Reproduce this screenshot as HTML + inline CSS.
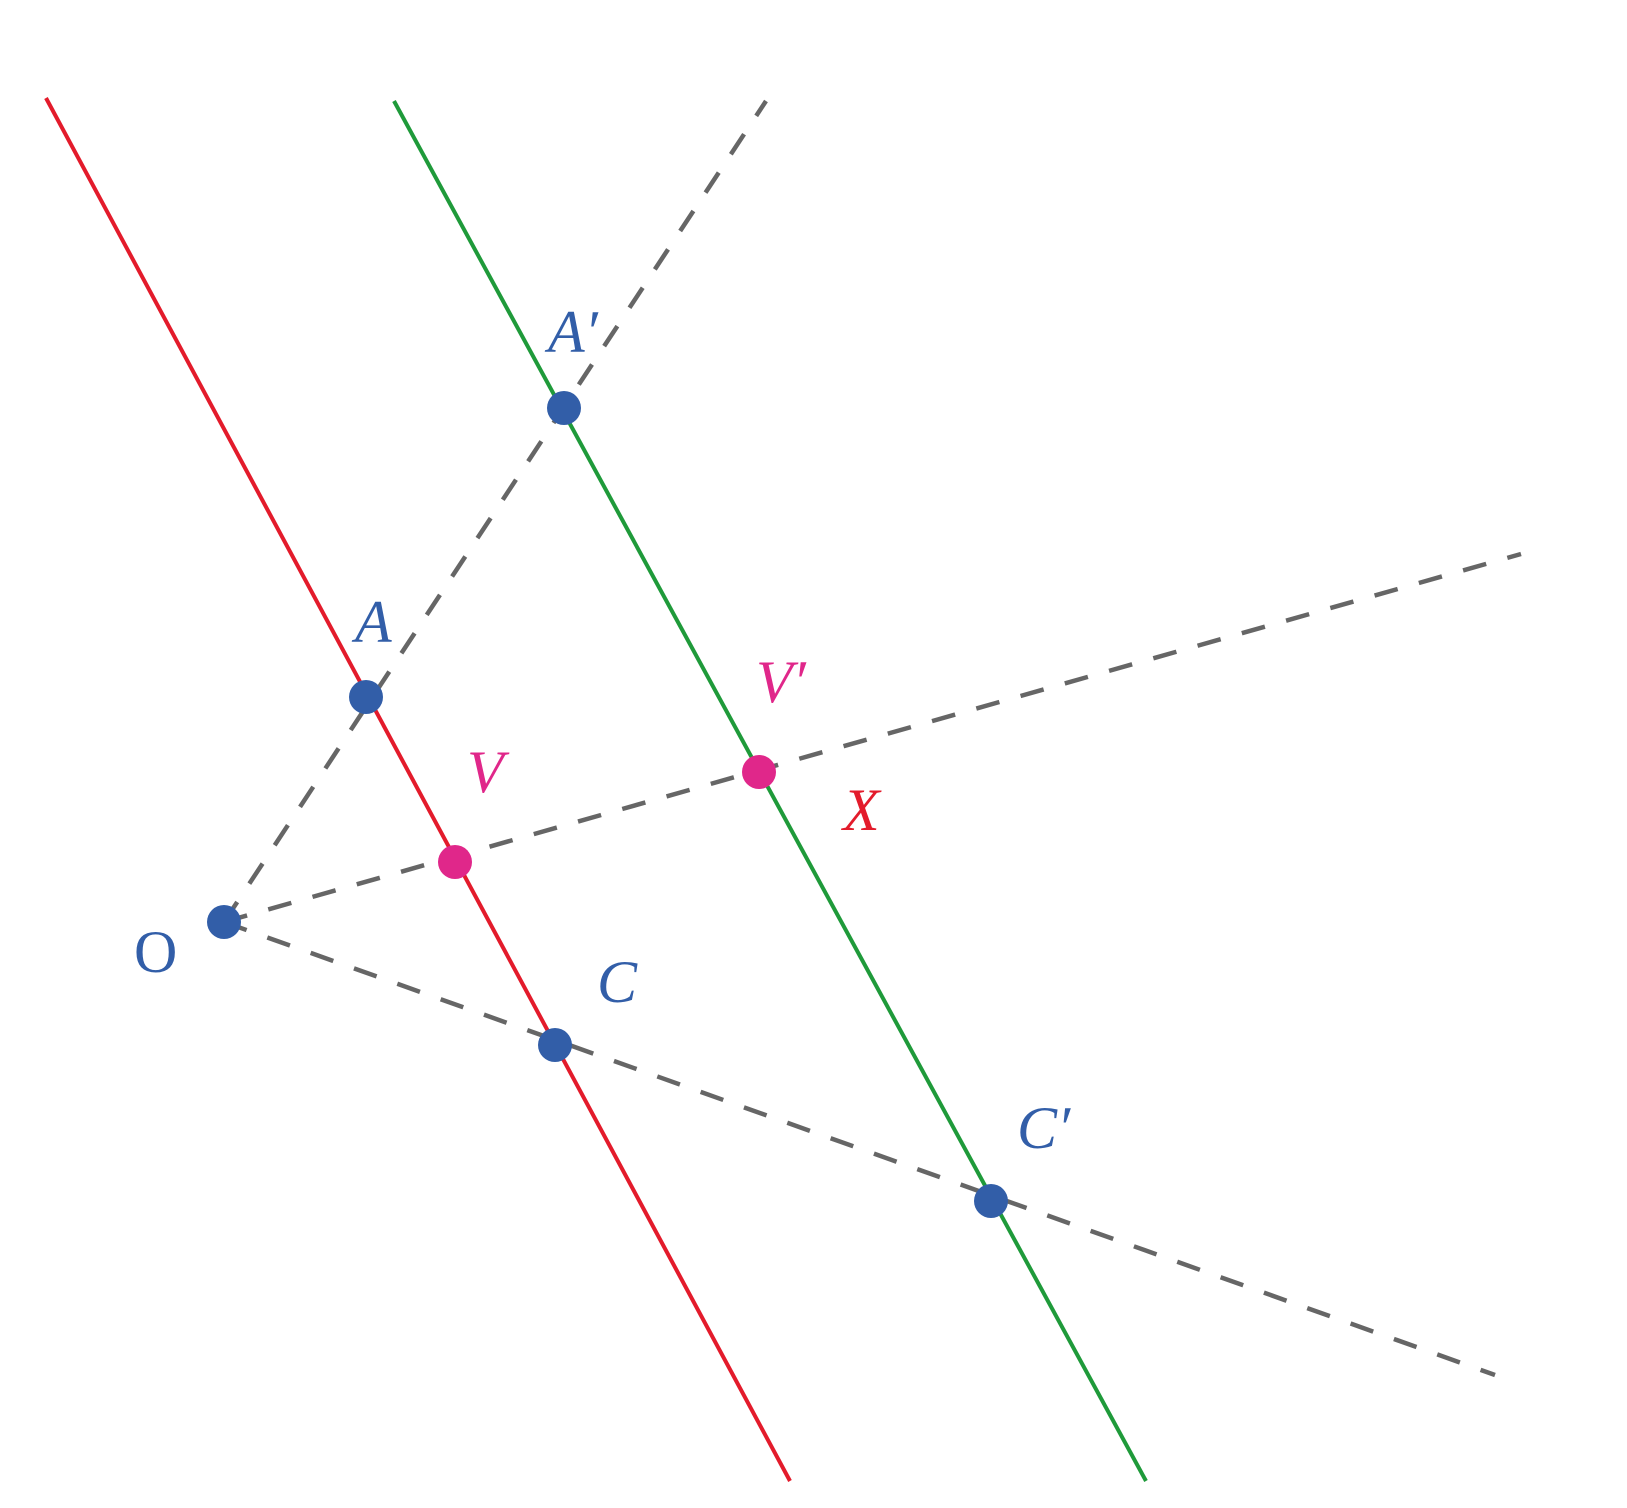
<!DOCTYPE html>
<html><head><style>html,body{margin:0;padding:0;background:#fff}</style></head>
<body>
<svg width="1627" height="1503" viewBox="0 0 1627 1503" xmlns="http://www.w3.org/2000/svg">
<g stroke="#666" stroke-width="4.5" stroke-dasharray="24,22" fill="none">
<line x1="224" y1="922" x2="766" y2="101"/>
<line x1="224" y1="922" x2="1521" y2="554"/>
<line x1="224" y1="922" x2="1495" y2="1375"/>
</g>
<line x1="46" y1="98" x2="790" y2="1481" stroke="#e31b2b" stroke-width="4"/>
<line x1="394" y1="101" x2="1146" y2="1481" stroke="#1f9a3a" stroke-width="4"/>
<g fill="#325ea8">
<circle cx="224" cy="922" r="17"/>
<circle cx="564" cy="408" r="17"/>
<circle cx="366" cy="697" r="17"/>
<circle cx="555" cy="1045" r="17"/>
<circle cx="991" cy="1201" r="17"/>
</g>
<g fill="#e0278a">
<circle cx="455" cy="862" r="17"/>
<circle cx="759" cy="772" r="17"/>
</g>
<g font-family="Liberation Serif, serif" font-style="italic" font-size="60">
<text x="548" y="352" fill="#325ea8">A′</text>
<text x="355" y="642" fill="#325ea8">A</text>
<text x="597" y="1002" fill="#325ea8">C</text>
<text x="1017" y="1148" fill="#325ea8">C′</text>
<text x="467" y="792" fill="#e0278a">V</text>
<text x="756" y="702" fill="#e0278a">V′</text>
<text x="843" y="830" fill="#e31b2b">X</text>
</g>
<text x="134" y="972" font-family="Liberation Serif, serif" font-size="60" fill="#325ea8">O</text>
</svg>
</body></html>
